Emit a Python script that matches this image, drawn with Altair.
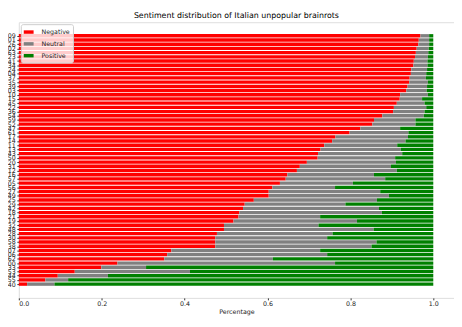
import altair as alt
import pandas as pd

labels = ["09","01","26","02","63","23","41","34","24","04",
          "37","35","39","03","10","15","45","22","36","54",
          "59","52","47","61","17","14","11","13","43","50",
          "20","31","12","16","57","05","56","27","49","25",
          "29","42","18","21","19","32","48","28","30","58",
          "38","07","06","62","00","33","53","44","55","40"]

negative = [0.969,0.965,0.964,0.960,0.958,0.956,0.953,0.952,0.947,0.946,
            0.943,0.942,0.938,0.935,0.920,0.919,0.912,0.905,0.903,0.877,
            0.857,0.853,0.824,0.798,0.764,0.756,0.737,0.728,0.722,0.721,
            0.695,0.678,0.671,0.648,0.644,0.630,0.612,0.603,0.603,0.567,
            0.545,0.541,0.532,0.530,0.518,0.495,0.495,0.478,0.474,0.474,
            0.474,0.368,0.358,0.351,0.238,0.199,0.135,0.094,0.064,0.020]

neutral = [0.021,0.025,0.026,0.029,0.030,0.031,0.033,0.034,0.038,0.037,
           0.039,0.045,0.047,0.049,0.067,0.054,0.067,0.078,0.076,0.100,
           0.100,0.104,0.096,0.142,0.175,0.177,0.176,0.194,0.203,0.187,
           0.215,0.220,0.241,0.209,0.240,0.176,0.151,0.269,0.290,0.297,
           0.243,0.328,0.344,0.197,0.298,0.228,0.361,0.279,0.270,0.389,
           0.377,0.359,0.386,0.262,0.525,0.108,0.278,0.121,0.055,0.066]

positive = [0.010,0.010,0.010,0.011,0.012,0.013,0.014,0.014,0.015,0.017,
            0.018,0.013,0.015,0.016,0.013,0.027,0.021,0.017,0.021,0.023,
            0.043,0.043,0.080,0.060,0.061,0.067,0.087,0.078,0.075,0.092,
            0.090,0.102,0.088,0.143,0.116,0.194,0.237,0.128,0.107,0.136,
            0.212,0.131,0.124,0.273,0.184,0.277,0.144,0.243,0.256,0.137,
            0.149,0.273,0.256,0.387,0.237,0.693,0.587,0.785,0.881,0.914]

sentiments = ["Negative", "Neutral", "Positive"]
colors = ["#ff0000", "#808080", "#008000"]

rows = []
for i, lab in enumerate(labels):
    for k, (s, vals) in enumerate(zip(sentiments, [negative, neutral, positive])):
        rows.append({"idx": i, "label": lab, "sentiment": s, "value": vals[i], "ord": k})
df = pd.DataFrame(rows)

FONT = "DejaVu Sans"
label_expr = "[" + ",".join("'%s'" % l for l in labels) + "][datum.value]"

chart = alt.Chart(df).transform_stack(
    stack="value", groupby=["idx"], as_=["x0", "x1"],
    sort=[alt.SortField("ord", order="ascending")], offset="zero"
).transform_calculate(
    lo="datum.idx - 0.4", hi="datum.idx + 0.4"
).mark_bar().encode(
    y=alt.Y("lo:Q",
            scale=alt.Scale(domain=[-3.23, 62.27], reverse=True, nice=False, zero=False),
            axis=alt.Axis(title=None, values=list(range(len(labels))),
                          labelExpr=label_expr,
                          labelFontSize=6.4, labelFont=FONT,
                          labelColor="#222", tickSize=2, labelPadding=1.5,
                          labelOverlap=False, domain=False, tickColor="#333",
                          labelBound=False, labelFlush=False, grid=False)),
    y2="hi:Q",
    x=alt.X("x0:Q",
            scale=alt.Scale(domain=[0, 1.05], nice=False),
            axis=alt.Axis(title="Percentage", values=[0, 0.2, 0.4, 0.6, 0.8, 1.0],
                          format=".1f", labelFontSize=6.4, labelFont=FONT,
                          labelColor="#222", tickSize=2, labelPadding=1,
                          titleFontSize=6.4, titleFont=FONT, titleFontWeight="normal",
                          titleColor="#222", titlePadding=1, grid=False,
                          domain=False, tickColor="#333")),
    x2="x1:Q",
    color=alt.Color("sentiment:N",
                    scale=alt.Scale(domain=sentiments, range=colors),
                    legend=alt.Legend(title=None, orient="top-left", offset=2,
                                      fillColor="rgba(255,255,255,0.8)",
                                      strokeColor="#cccccc", cornerRadius=2,
                                      padding=3,
                                      symbolType="M-1,-0.35L1,-0.35L1,0.35L-1,0.35Z",
                                      symbolSize=100, symbolStrokeWidth=0,
                                      symbolOpacity=1,
                                      labelFontSize=6.4, labelFont=FONT,
                                      labelColor="#222", labelOffset=8,
                                      rowPadding=3)),
).properties(
    width=442,
    height=280,
    title=alt.TitleParams("Sentiment distribution of Italian unpopular brainrots",
                          fontSize=8, font=FONT, fontWeight="normal",
                          color="#000", offset=2, anchor="middle"),
    autosize=alt.AutoSizeParams(type="none"),
    padding={"left": 11, "top": 12, "right": 0, "bottom": 18},
).configure_view(
    stroke="#444", strokeWidth=0.8
).configure(background="white")

chart.save("out.html", embed_options={"renderer": "svg", "actions": False})
